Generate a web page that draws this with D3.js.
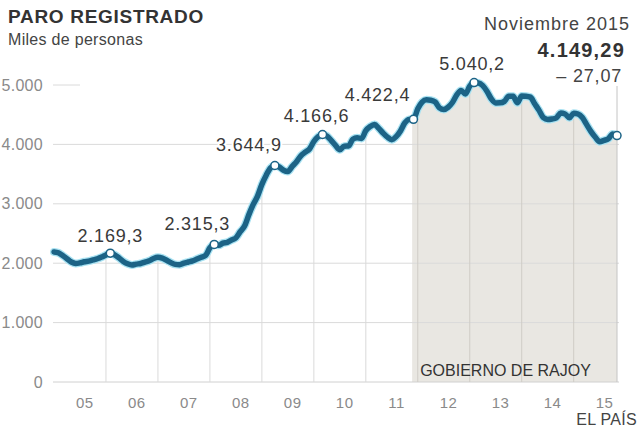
<!DOCTYPE html>
<html>
<head>
<meta charset="utf-8">
<script src="https://cdn.jsdelivr.net/npm/d3@7"></script>
<style>
  html, body { margin: 0; padding: 0; background: #fff; }
  svg { display: block; font-family: "Liberation Sans", Arial, Helvetica, sans-serif; }
</style>
</head>
<body>
<svg id="chart" width="640" height="440"></svg>
<script>
// ---------------- DATA ----------------
const startYear = 2005;
const yearLabels = ["05","06","07","08","09","10","11","12","13","14","15"];
const yTicks = [0, 1000, 2000, 3000, 4000, 5000];
// Paro registrado, miles de personas, mensual ene-2005 .. nov-2015
const paro2005 = [2190, 2175, 2130, 2075, 2020, 1995, 2005, 2025, 2035, 2055, 2075, 2103];
const paro2006 = [2140, 2169.3, 2140, 2090, 2030, 1990, 1970, 1985, 1995, 2020, 2040, 2080];
const paro2007 = [2100, 2085, 2050, 2010, 1980, 1975, 2000, 2020, 2040, 2070, 2100, 2130];
const paro2008 = [2261.1, 2315.3, 2300.9, 2338.5, 2352.0, 2390.4, 2426.2, 2530.0, 2625.4, 2818.0, 2989.3, 3128.9];
const paro2009 = [3327.8, 3481.9, 3605.4, 3644.9, 3620.1, 3564.9, 3544.1, 3629.7, 3709.4, 3808.4, 3868.9, 3923.6];
const paro2010 = [4048.5, 4130.6, 4166.6, 4142.4, 4066.2, 3982.4, 3908.7, 3969.7, 3972.9, 4085.9, 4110.3, 4100.1];
const paro2011 = [4231.0, 4299.3, 4333.7, 4269.4, 4189.6, 4121.8, 4080.3, 4130.9, 4226.7, 4360.9, 4420.5, 4422.4];
const paro2012 = [4599.8, 4712.1, 4750.9, 4744.2, 4714.4, 4615.3, 4587.5, 4625.6, 4705.3, 4833.5, 4907.8, 4848.7];
const paro2013 = [4980.8, 5040.2, 5035.2, 4989.2, 4890.9, 4763.7, 4698.8, 4699.3, 4724.4, 4811.4, 4808.9, 4701.3];
const paro2014 = [4814.4, 4812.5, 4795.9, 4684.3, 4572.4, 4449.7, 4419.9, 4427.9, 4447.7, 4526.8, 4512.2, 4447.7];
const paro2015 = [4525.7, 4512.2, 4451.9, 4333.0, 4215.6, 4120.3, 4046.3, 4067.9, 4094.0, 4176.36, 4149.29];
// months (index from Jan 2005) with labelled points
const annotatedMonths = [13, 37, 51, 62, 83, 97];
const rajoyStartMonth = 82.7; // 21 dic 2011
const lastLabel = "Noviembre 2015";
const lastChange = -27.07;

// ---------------- SETUP ----------------
const paro = [].concat(paro2005, paro2006, paro2007, paro2008, paro2009, paro2010,
                       paro2011, paro2012, paro2013, paro2014, paro2015);
const data = paro.map((v, i) => ({ i, v }));
const last = data[data.length - 1];

const es = d3.formatLocale({ decimal: ",", thousands: ".", grouping: [3], currency: ["", "€"] });
const fmtTick = es.format(",d");
const fmt1 = es.format(",.1f");
const fmt2 = es.format(",.2f");

const svg = d3.select("#chart");
const x = d3.scaleLinear().domain([0, data.length - 1]).range([54, 617]);
const y = d3.scaleLinear().domain([0, 5000]).range([382, 85]);

const gridColor = "#dadada";

// shaded area (Gobierno de Rajoy)
svg.append("clipPath").attr("id", "rajoyClip")
  .append("rect")
  .attr("x", x(rajoyStartMonth)).attr("y", 0)
  .attr("width", x(last.i) - x(rajoyStartMonth)).attr("height", 440);

const curve = d3.curveMonotoneX;
const area = d3.area().x(d => x(d.i)).y0(y(0)).y1(d => y(d.v)).curve(curve);
svg.append("path").datum(data)
  .attr("d", area)
  .attr("fill", "#e9e7e2")
  .attr("clip-path", "url(#rajoyClip)");

// horizontal grid
const gy = svg.append("g");
yTicks.forEach(t => {
  gy.append("line")
    .attr("x1", 53).attr("x2", t === 5000 ? 80 : 619)
    .attr("y1", y(t)).attr("y2", y(t))
    .attr("stroke", t === 0 ? "#d0d0d0" : gridColor)
    .attr("stroke-width", 1);
});

// y axis labels
const yAxis = d3.axisLeft(y).tickValues(yTicks).tickSize(0).tickPadding(10).tickFormat(fmtTick);
const gyAxis = svg.append("g").attr("transform", "translate(53,0)").call(yAxis);
gyAxis.select(".domain").remove();
gyAxis.selectAll("text")
  .attr("fill", "#8a8a8a")
  .style("font-size", "16px")
  .style("letter-spacing", "0.3px")
  .style("font-family", "'Liberation Sans', Arial, sans-serif");

// vertical year grid lines (from baseline up to the line)
const yearStarts = d3.range(1, yearLabels.length).map(k => k * 12);
svg.append("g").selectAll("line").data(yearStarts).join("line")
  .attr("x1", d => x(d)).attr("x2", d => x(d))
  .attr("y1", y(0))
  .attr("y2", d => y(paro[d]))
  .attr("stroke", d => d >= rajoyStartMonth ? "#cfccc6" : gridColor)
  .attr("stroke-width", 1);

// leader line at last point
svg.append("line")
  .attr("x1", x(last.i)).attr("x2", x(last.i))
  .attr("y1", 86).attr("y2", y(0))
  .attr("stroke", "#c4c4c4").attr("stroke-width", 1);

// x axis year labels
const xAxis = d3.axisBottom(x)
  .tickValues(yearLabels.map((d, k) => k * 12 + 7))
  .tickFormat((d, k) => yearLabels[k])
  .tickSize(0).tickPadding(15);
const gxAxis = svg.append("g").attr("transform", `translate(0,${y(0)})`).call(xAxis);
gxAxis.select(".domain").remove();
gxAxis.selectAll("text")
  .attr("fill", "#8a8a8a")
  .style("font-size", "15px")
  .style("letter-spacing", "0.5px")
  .style("font-family", "'Liberation Sans', Arial, sans-serif");

// line
const line = d3.line().x(d => x(d.i)).y(d => y(d.v)).curve(curve);
svg.append("path").datum(data)
  .attr("d", line).attr("fill", "none")
  .attr("stroke", "#a8e2f2").attr("stroke-width", 8)
  .attr("stroke-linejoin", "round").attr("stroke-linecap", "round");
svg.append("path").datum(data)
  .attr("d", line).attr("fill", "none")
  .attr("stroke", "#1c6386").attr("stroke-width", 5.5)
  .attr("stroke-linejoin", "round").attr("stroke-linecap", "round");

// "GOBIERNO DE RAJOY"
svg.append("text")
  .attr("x", x(rajoyStartMonth) + 8).attr("y", 376)
  .attr("fill", "#333")
  .style("font-size", "16px")
  .text("GOBIERNO DE RAJOY");

// annotated points
const labelDx = [0, -17, -26, -6, -36, -2];
const labelDy = [-11, -14.5, -14.5, -12.5, -18, -12.5];
const ann = annotatedMonths.map(i => data[i]);
svg.append("g").selectAll("text").data(ann).join("text")
  .attr("x", (d, k) => x(d.i) + labelDx[k])
  .attr("y", (d, k) => y(d.v) + labelDy[k])
  .attr("text-anchor", "middle")
  .attr("fill", "#3a3a3a")
  .attr("stroke", "#fff").attr("stroke-width", 4)
  .attr("paint-order", "stroke")
  .style("font-size", "18px")
  .style("letter-spacing", "0.8px")
  .text(d => fmt1(d.v));

svg.append("g").selectAll("circle").data(ann.concat([last])).join("circle")
  .attr("cx", d => x(d.i)).attr("cy", d => y(d.v))
  .attr("r", 4)
  .attr("fill", "#fff")
  .attr("stroke", "#1c6386").attr("stroke-width", 1.5);

// last value block
svg.append("text").attr("x", 630).attr("y", 30).attr("text-anchor", "end")
  .attr("fill", "#444").style("font-size", "18px").style("letter-spacing", "1px")
  .text(lastLabel);
svg.append("text").attr("x", 625).attr("y", 57).attr("text-anchor", "end")
  .attr("fill", "#333").style("font-size", "20px").style("font-weight", "bold")
  .style("letter-spacing", "1.2px")
  .text(fmt2(last.v));
svg.append("text").attr("x", 622).attr("y", 82).attr("text-anchor", "end")
  .attr("fill", "#444").attr("stroke", "#fff").attr("stroke-width", 4).attr("paint-order", "stroke")
  .style("font-size", "18px").style("letter-spacing", "0.8px")
  .text("\u2013 " + fmt2(Math.abs(lastChange)));

// title
svg.append("text").attr("x", 8).attr("y", 23)
  .attr("fill", "#333").style("font-size", "19px").style("font-weight", "bold")
  .style("letter-spacing", "0.7px")
  .text("PARO REGISTRADO");
svg.append("text").attr("x", 8).attr("y", 45)
  .attr("fill", "#444").style("font-size", "16px").style("letter-spacing", "0.3px")
  .text("Miles de personas");

// source
svg.append("text").attr("x", 637).attr("y", 425).attr("text-anchor", "end")
  .attr("fill", "#444").style("font-size", "16px").style("letter-spacing", "0.3px")
  .text("EL PAÍS");
</script>
</body>
</html>
